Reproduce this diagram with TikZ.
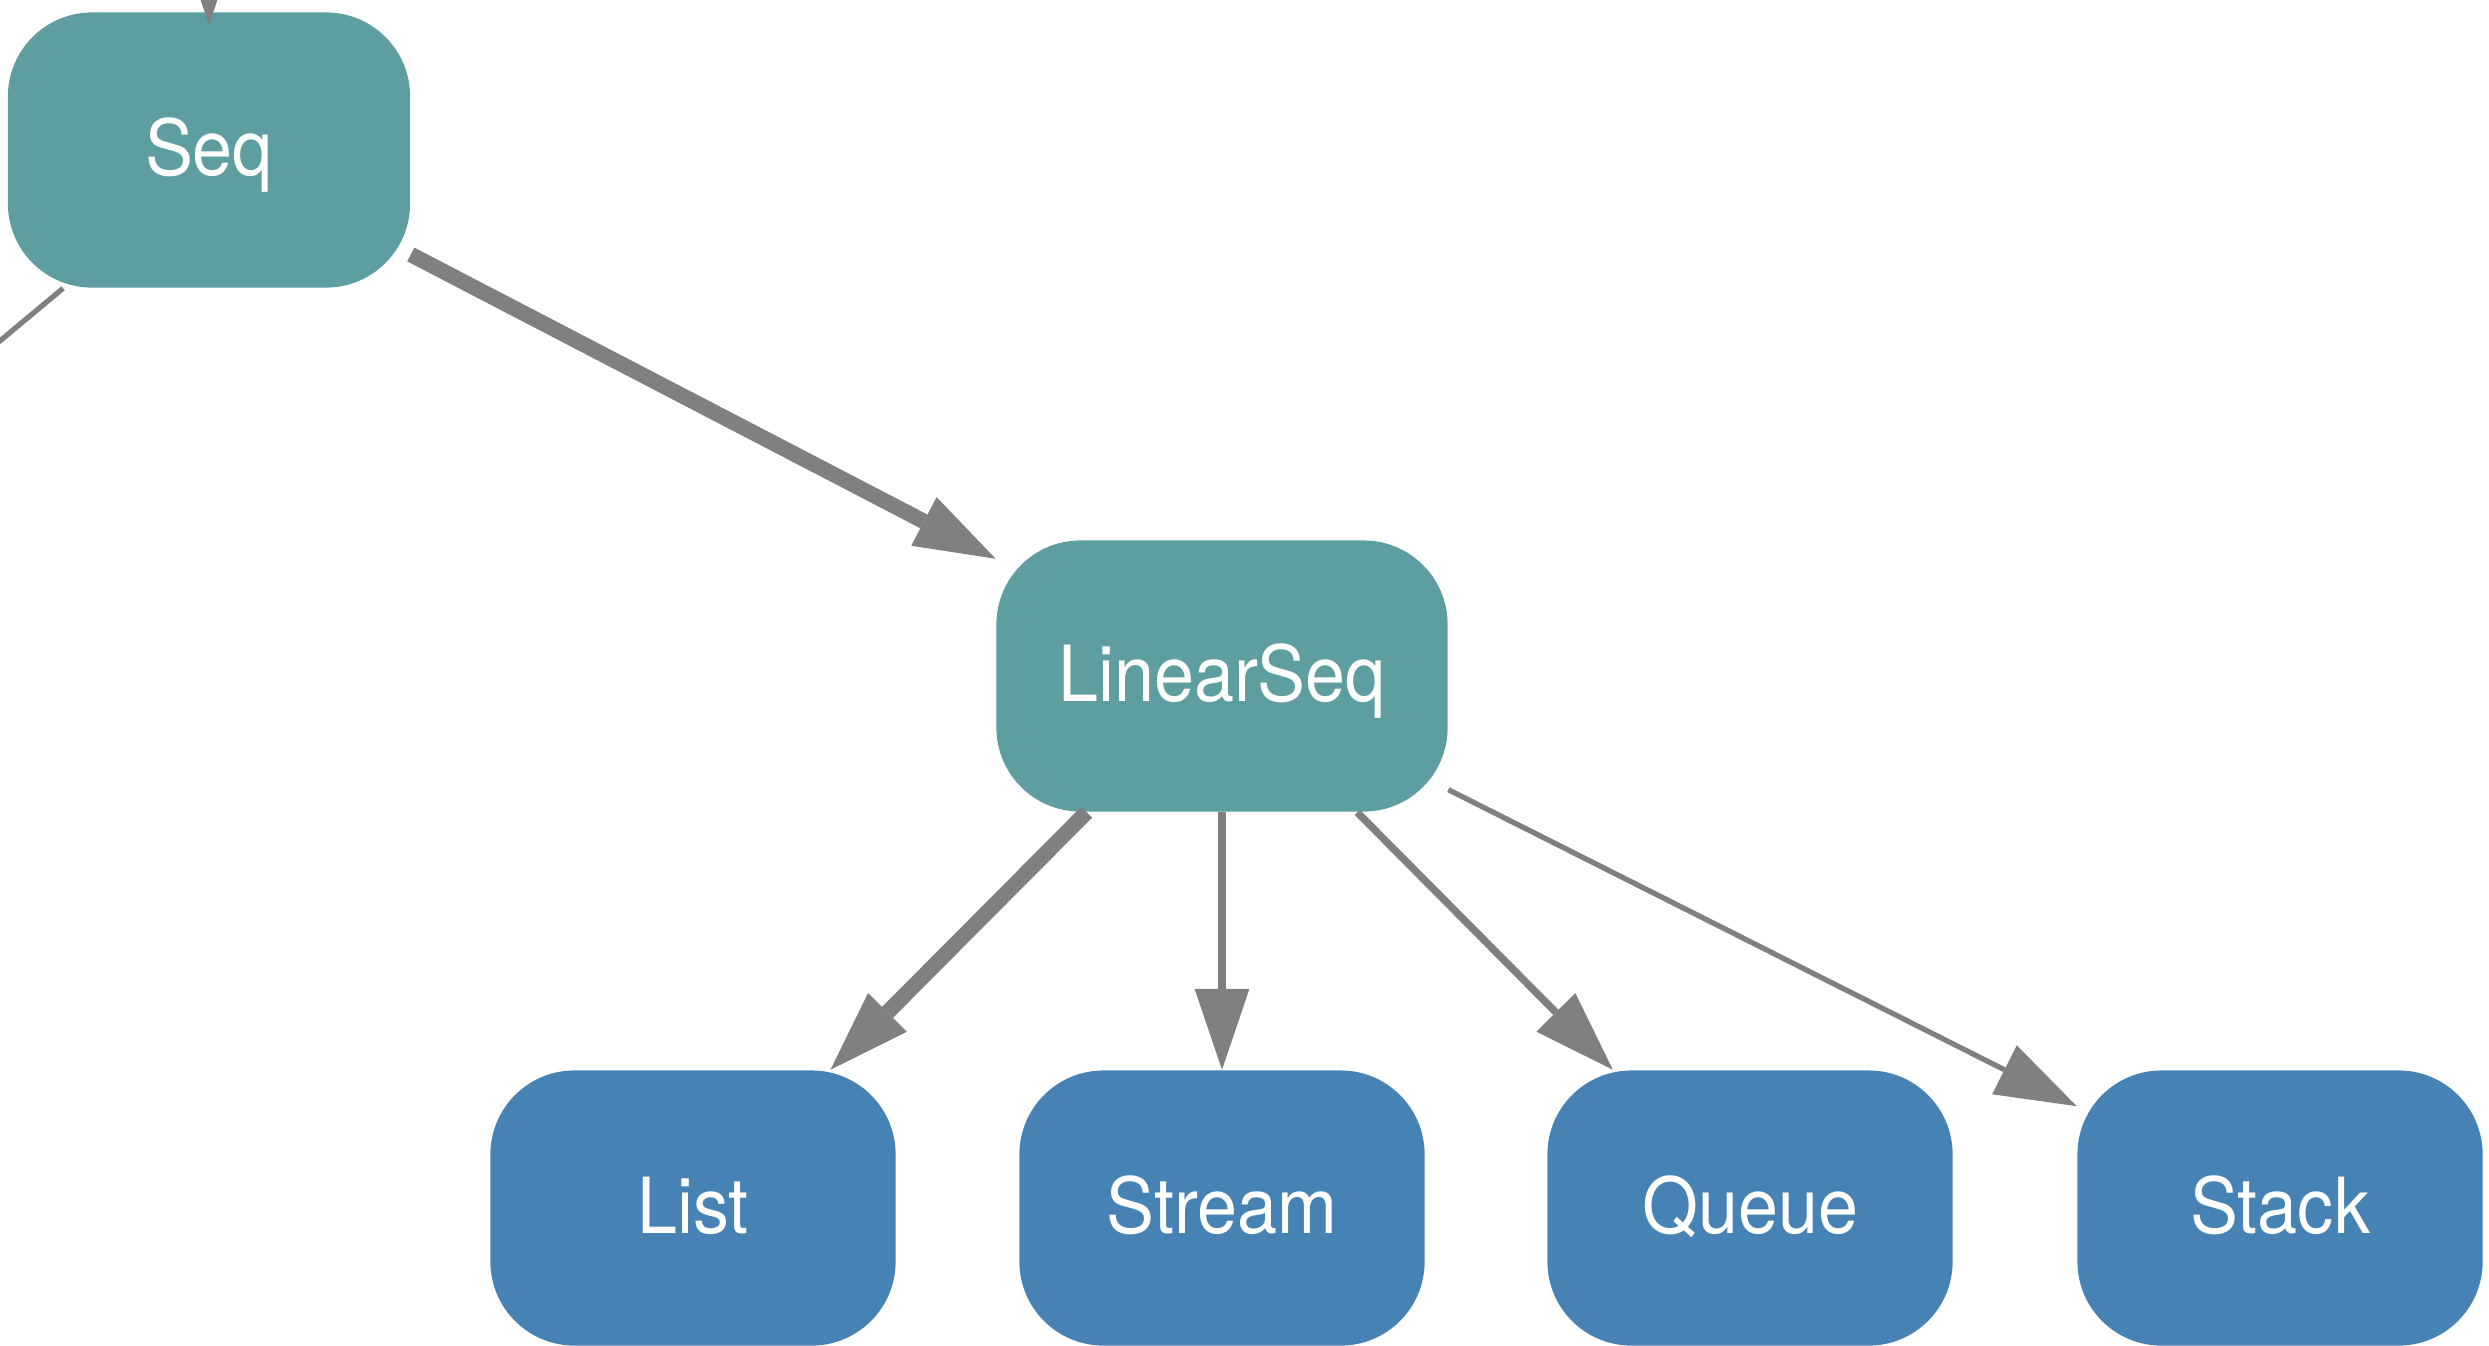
\documentclass[tikz,border=0pt]{standalone}
\usepackage{fontspec}
\setmainfont[FakeStretch=0.93]{TeX Gyre Heros}
\usetikzlibrary{arrows.meta}
\definecolor{cadet}{RGB}{95,158,160}
\definecolor{steel}{RGB}{70,130,180}
\definecolor{edgegray}{RGB}{128,128,128}

\begin{document}
\begin{tikzpicture}[x=0.01cm,y=-0.01cm,
  box/.style={rectangle, rounded corners=0.84cm, text=white,
    font=\fontsize{22}{26}\selectfont, text height=16pt, text depth=1.5pt,
    inner sep=0pt, minimum height=2.75cm},
  traitbox/.style={box, fill=cadet},
  classbox/.style={box, fill=steel, minimum width=4.05cm},
  plainlink/.style={draw=edgegray},
  link/.style={draw=edgegray, -{Triangle[length=23pt,width=15.6pt,line width=0pt]}},
  heavy/.style={line width=4.4pt},
  medium/.style={line width=2.1pt},
  light/.style={line width=1.5pt}
]
\useasboundingbox (0,0) rectangle (2489,1345);
\clip (0,0) rectangle (2489,1345);

% traits
\node[traitbox, minimum width=4.02cm] (seq) at (209,150) {Seq};
\node[traitbox, minimum width=4.51cm, minimum height=2.71cm] (linseq) at (1222,676) {LinearSeq};

% concrete classes
\node[classbox] (list)   at (693,1208)  {List};
\node[classbox] (stream) at (1222,1208) {Stream};
\node[classbox] (queue)  at (1750,1208) {Queue};
\node[classbox] (stack)  at (2280,1208) {Stack};

% edges leading outside the visible area
\coordinate (parent) at (209,-300);
\coordinate (sibling) at (-126,446);
\draw[link, light, shorten >=-3.7pt] (parent) -- (seq);
\draw[plainlink, light] ([xshift=-41.5pt]seq.south) -- (sibling);

% hierarchy
\draw[link, heavy] (seq) -- (linseq);
\draw[link, heavy] (linseq) -- (list);
\draw[link, medium] (linseq) -- (stream);
\draw[link, medium] (linseq) -- (queue);
\draw[link, light] (linseq) -- (stack);
\end{tikzpicture}
\end{document}
